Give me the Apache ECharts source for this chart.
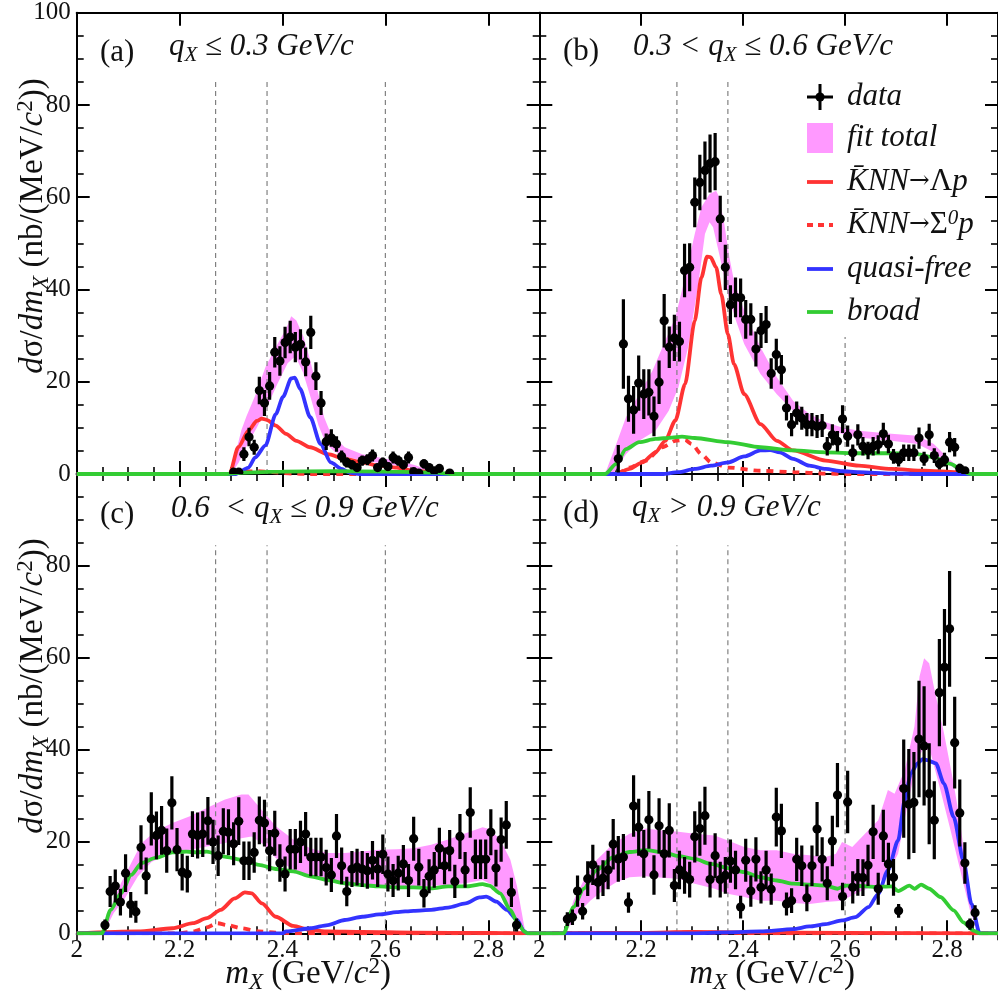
<!DOCTYPE html>
<html><head><meta charset="utf-8">
<script src="https://cdn.jsdelivr.net/npm/echarts@6/dist/echarts.min.js"></script>
<style>html,body{margin:0;padding:0;background:#fff}#c{width:998px;height:995px}</style>
</head><body><div id="c"></div>
<script>
// ---------------- data ----------------
const xTickLabels = ['2', '2.2', '2.4', '2.6', '2.8'];
const yTickLabels = ['0', '20', '40', '60', '80', '100'];
const dashX = [2.27, 2.37, 2.6];
const dashTopA = [85, 85, 85];
const dashTopB = [85, 85, 29.7];
const dashTopC = [84.5, 84.5, 84.5];
const dashTopD = [84.5, 84.5, 100];

const panelLabels = ['(a)', '(b)', '(c)', '(d)'];
const panelTitles = ['{i|q}{s|X}{i| \u2264 0.3 GeV/c}', '{i|0.3 < q}{s|X}{i| \u2264 0.6 GeV/c}',
                     '{i|0.6  < q}{s|X}{i| \u2264 0.9 GeV/c}', '{i|q}{s|X}{i| > 0.9 GeV/c}'];
const legendNames = ['data', 'fit total', 'K\u0304NN\u2192\u039Bp', 'K\u0304NN\u2192\u03A3\u2070p', 'quasi-free', 'broad'];

// [x, y, error]
const aData = [[2.305,0.4,0.4],[2.315,0.4,0.4],[2.325,4.3,1.5],[2.335,8.0,2.0],[2.345,5.8,1.6],[2.355,18.1,3.0],
[2.365,15.4,2.8],[2.375,19.1,3.0],[2.385,26.4,3.3],[2.395,24.5,3.2],[2.405,28.5,3.4],[2.415,29.7,3.5],[2.425,27.5,3.3],
[2.435,28.1,3.3],[2.445,24.3,3.1],[2.455,30.7,3.6],[2.465,21.2,3.0],[2.475,15.4,2.6],[2.485,7.0,1.8],[2.495,7.8,1.9],
[2.505,6.5,1.7],[2.515,3.8,1.3],[2.525,2.5,1.1],[2.535,2.0,1.0],[2.545,1.4,0.8],[2.555,2.9,1.1],[2.565,3.1,1.2],
[2.575,4.0,1.3],[2.585,1.4,0.8],[2.595,2.5,1.1],[2.605,1.6,0.9],[2.615,3.6,1.3],[2.625,2.9,1.1],[2.635,2.0,1.0],
[2.645,3.6,1.3],[2.655,0.5,0.5],[2.665,0.2,0.3],[2.675,2.2,1.0],[2.685,1.4,0.8],[2.695,0.7,0.6],[2.705,1.2,0.7],[2.725,0.2,0.3]];

const bData = [[2.155,3.3,3.0],[2.165,28.2,9.7],[2.175,16.3,5.0],[2.185,13.9,5.2],[2.195,19.7,6.0],[2.205,17.3,5.4],
[2.215,17.7,5.0],[2.225,12.5,4.3],[2.235,19.9,4.7],[2.245,33.2,5.8],[2.255,27.5,4.5],[2.265,29.5,5.0],[2.275,28.7,4.3],
[2.285,44.1,5.8],[2.295,44.8,5.2],[2.305,58.9,5.4],[2.315,63.2,6.0],[2.325,65.8,6.3],[2.335,67.3,6.3],[2.345,67.7,6.2],
[2.355,55.3,5.0],[2.365,44.8,4.9],[2.375,36.7,4.2],[2.385,38.3,4.3],[2.395,38.2,4.2],[2.405,33.5,4.2],[2.415,33.5,3.5],
[2.425,27.1,3.8],[2.435,31.1,3.8],[2.445,32.4,4.0],[2.455,21.8,3.3],[2.465,25.9,3.4],[2.475,22.6,3.2],[2.485,14.3,2.7],
[2.495,10.7,2.5],[2.505,13.2,2.5],[2.515,12.1,2.5],[2.525,10.7,2.5],[2.535,10.7,2.5],[2.545,10.3,2.5],[2.555,10.5,2.5],
[2.565,6.0,2.0],[2.575,8.5,2.3],[2.585,7.1,2.2],[2.595,11.9,3.0],[2.605,8.2,2.3],[2.615,4.6,1.8],[2.625,8.5,2.3],
[2.635,6.0,2.0],[2.645,5.1,1.9],[2.655,6.0,2.0],[2.665,6.4,2.0],[2.675,8.7,2.4],[2.685,6.5,2.0],[2.695,3.8,1.6],
[2.705,3.1,1.5],[2.715,4.6,1.8],[2.725,4.6,1.8],[2.735,4.6,1.8],[2.745,7.8,2.3],[2.755,3.3,1.5],[2.765,8.5,2.4],
[2.775,4.0,1.6],[2.785,2.2,1.2],[2.795,3.1,1.5],[2.805,6.9,2.2],[2.815,5.8,2.0],[2.825,1.2,1.0],[2.835,0.7,0.8]];

const cData = [[2.055,1.8,1.2],[2.065,9.1,3.4],[2.075,10.3,3.6],[2.085,6.8,2.9],[2.095,13.1,4.1],[2.105,6.2,2.8],
[2.115,4.7,2.4],[2.125,18.7,4.8],[2.135,12.5,4.0],[2.145,24.9,5.8],[2.155,21.3,5.2],[2.165,22.4,5.3],[2.175,18.0,4.8],
[2.185,28.4,5.8],[2.195,18.2,4.7],[2.205,13.3,4.0],[2.215,12.9,4.0],[2.225,21.6,5.0],[2.235,21.3,5.0],[2.245,21.6,5.0],
[2.255,24.5,5.2],[2.265,19.9,4.8],[2.275,16.9,4.4],[2.285,22.2,5.0],[2.295,22.0,5.0],[2.305,19.5,4.7],[2.315,24.4,5.2],
[2.325,15.8,4.2],[2.335,15.8,4.2],[2.345,17.6,4.4],[2.355,24.6,5.2],[2.365,24.0,5.1],[2.375,18.0,4.5],[2.385,21.8,4.9],
[2.395,15.3,4.1],[2.405,12.9,3.8],[2.415,18.3,4.4],[2.425,18.3,4.4],[2.435,19.9,4.6],[2.445,21.6,4.8],[2.455,16.6,4.2],
[2.465,16.6,4.2],[2.475,16.6,4.2],[2.485,14.3,3.9],[2.495,12.7,3.7],[2.505,21.2,4.8],[2.515,14.7,4.0],[2.525,9.1,3.2],
[2.535,14.0,3.9],[2.545,14.4,4.0],[2.555,14.0,3.9],[2.565,13.6,3.9],[2.575,15.9,4.2],[2.585,14.0,3.9],[2.595,17.2,4.3],
[2.605,12.9,3.8],[2.615,11.5,3.6],[2.625,13.1,3.8],[2.635,15.1,4.1],[2.645,11.5,3.6],[2.655,20.6,4.8],[2.665,14.4,4.0],
[2.675,8.7,3.1],[2.685,12.4,3.7],[2.695,13.8,3.9],[2.705,18.5,4.5],[2.715,14.7,4.0],[2.725,18.0,4.5],[2.735,11.3,3.6],
[2.745,21.1,4.9],[2.755,13.8,3.9],[2.765,26.3,5.5],[2.775,16.1,4.3],[2.785,16.1,4.3],[2.795,16.1,4.3],[2.805,22.0,5.0],
[2.815,14.2,4.0],[2.825,20.4,4.8],[2.835,23.6,5.2],[2.845,8.9,3.2],[2.855,1.8,1.4]];

const dData = [[2.055,3.1,1.5],[2.065,3.5,1.7],[2.075,9.2,3.4],[2.085,4.8,1.8],[2.095,11.9,3.8],[2.105,14.9,4.4],
[2.115,11.1,3.7],[2.125,12.0,3.9],[2.135,13.8,4.2],[2.145,19.4,5.5],[2.155,16.2,5.0],[2.165,16.6,5.0],[2.175,6.7,2.2],
[2.185,27.7,6.7],[2.195,23.1,6.2],[2.205,17.3,5.2],[2.215,24.7,6.3],[2.225,12.7,4.3],[2.235,23.4,6.0],[2.245,17.3,5.2],
[2.255,22.4,5.9],[2.265,10.4,3.6],[2.275,13.8,4.2],[2.285,12.6,4.0],[2.295,11.7,3.9],[2.305,21.0,5.6],[2.315,22.8,5.9],
[2.325,25.6,6.3],[2.335,11.7,3.9],[2.345,16.9,4.9],[2.355,11.7,3.9],[2.365,12.6,4.0],[2.375,15.7,4.7],[2.385,13.8,4.2],
[2.395,5.7,2.5],[2.405,15.9,4.7],[2.415,9.2,3.4],[2.425,16.1,4.8],[2.435,10.0,3.5],[2.445,13.8,4.2],[2.455,9.6,3.4],
[2.465,25.3,6.4],[2.475,22.3,5.9],[2.485,6.4,2.5],[2.495,7.1,2.7],[2.505,16.1,4.7],[2.515,14.7,4.4],[2.525,7.7,2.9],
[2.535,14.7,4.4],[2.545,22.7,5.9],[2.555,16.1,4.8],[2.565,10.9,3.7],[2.575,20.1,5.5],[2.585,30.1,7.0],[2.595,8.0,3.0],
[2.605,28.6,6.8],[2.615,10.0,3.5],[2.625,12.2,4.0],[2.635,12.1,4.0],[2.645,14.8,4.5],[2.655,22.1,5.9],[2.665,9.7,3.5],
[2.675,21.2,5.7],[2.685,15.1,4.6],[2.695,12.2,4.0],[2.705,4.9,1.5],[2.715,31.5,10.7],[2.725,28.1,12.0],[2.735,28.5,11.0],
[2.745,42.3,12.7],[2.755,40.8,13.0],[2.765,30.4,11.0],[2.775,24.6,8.5],[2.785,52.4,11.7],[2.795,57.9,12.7],[2.805,66.3,12.6],
[2.815,41.5,10.0],[2.825,26.2,7.3],[2.835,15.3,4.5],[2.845,2.0,1.2],[2.855,4.5,1.6]];

// fit total band: upper and lower edges
const aUpper = [[2.297,0],[2.31,5],[2.32,9.5],[2.33,12.5],[2.347,17],[2.367,23.2],[2.387,27.5],[2.407,31.5],[2.417,34.2],
[2.427,33.3],[2.441,29.7],[2.454,24.6],[2.468,18.1],[2.481,12.3],[2.494,8.7],[2.521,5.8],[2.555,4.3],[2.588,3.6],[2.622,2.8],
[2.655,2.0],[2.689,0.7],[2.722,0]];
const aLower = [[2.300,0],[2.315,2.5],[2.33,6],[2.35,10],[2.37,14.5],[2.39,19.5],[2.41,24],[2.425,25.5],[2.44,22],
[2.455,16.5],[2.47,10.5],[2.485,6.5],[2.5,5],[2.52,3.8],[2.56,2.8],[2.6,2.2],[2.65,1.4],[2.69,0.5],[2.715,0]];
const bUpper = [[2.129,0],[2.151,6.5],[2.170,12.3],[2.196,17.3],[2.222,22.4],[2.247,28.9],[2.267,34],[2.286,42.6],[2.305,52],
[2.318,57.8],[2.334,60.7],[2.347,61.4],[2.353,60],[2.363,54.2],[2.373,47],[2.382,41.9],[2.402,35.4],[2.434,27.5],[2.466,21],
[2.498,15.9],[2.530,13],[2.562,11.2],[2.594,10.1],[2.627,9.4],[2.691,8.7],[2.742,8.3],[2.774,6.5],[2.807,2.9],[2.832,0.7],[2.845,0]];
const bLower = [[2.145,0],[2.170,4.3],[2.196,7.2],[2.228,9.4],[2.254,13.7],[2.273,18.8],[2.292,27.5],[2.312,41.2],[2.325,52],
[2.334,54.6],[2.341,53.5],[2.353,47.7],[2.370,39],[2.386,33.2],[2.402,28.2],[2.434,21.7],[2.466,17.3],[2.498,13.7],[2.530,11.2],
[2.562,9.8],[2.594,8.7],[2.627,7.9],[2.691,7.2],[2.742,6.5],[2.774,4.7],[2.807,1.8],[2.832,0]];
const cUpper = [[2.049,0],[2.066,5.8],[2.086,10.9],[2.106,15.3],[2.126,19.6],[2.153,22.2],[2.186,24],[2.220,25.5],[2.253,27.3],
[2.287,29.1],[2.320,30.2],[2.334,30.2],[2.354,27.6],[2.387,23.3],[2.421,20.4],[2.454,18.5],[2.488,17.5],[2.521,17.5],[2.555,17.8],
[2.588,18.2],[2.622,18.3],[2.655,18.5],[2.689,19.3],[2.722,20.4],[2.756,21.8],[2.789,23.1],[2.802,22.7],[2.823,20.4],[2.843,16],
[2.856,10.2],[2.870,1.5],[2.873,0]];
const cLower = [[2.052,0],[2.072,4.4],[2.092,7.3],[2.119,12.4],[2.146,15.6],[2.186,17.5],[2.220,18.2],[2.253,18.9],[2.287,19.6],
[2.320,20.7],[2.340,21.1],[2.360,19.6],[2.387,16.4],[2.421,13.8],[2.454,12.4],[2.488,11.5],[2.521,10.9],[2.588,10.3],[2.655,10.2],
[2.722,10.5],[2.756,10.9],[2.789,11.6],[2.809,10.5],[2.829,8],[2.850,4.4],[2.863,0.7],[2.866,0]];
const dUpper = [[2.048,0],[2.067,7.1],[2.087,11.5],[2.112,15.9],[2.145,19.5],[2.177,21.7],[2.209,22.8],[2.241,22.4],[2.273,22.1],
[2.305,21.7],[2.344,21.3],[2.37,20.2],[2.402,18.8],[2.434,18.1],[2.466,18.1],[2.498,17.3],[2.530,17],[2.562,16.6],[2.582,17.3],
[2.594,19.9],[2.614,18.8],[2.639,21.7],[2.665,24.6],[2.684,31.2],[2.697,30.4],[2.717,35.5],[2.736,45],[2.746,55.9],[2.755,59.9],
[2.765,58.8],[2.774,53.8],[2.794,43.6],[2.813,32.6],[2.826,23.9],[2.845,7.9],[2.858,1.3],[2.866,0]];
const dLower = [[2.051,0],[2.074,4.2],[2.10,7.1],[2.125,9.3],[2.151,11.1],[2.177,12.2],[2.209,12.4],[2.241,12.1],[2.273,11.9],
[2.305,10.8],[2.344,9.7],[2.37,8.6],[2.402,7.9],[2.434,7.1],[2.466,7.1],[2.498,6.6],[2.530,6.4],[2.562,6.8],[2.594,7.1],[2.627,9.0],
[2.659,10.4],[2.684,13],[2.704,17.3],[2.723,28.3],[2.742,37.7],[2.755,40.6],[2.768,39.2],[2.787,31.2],[2.807,22.4],[2.826,13.7],
[2.845,5],[2.861,0]];

// components
const aRed = [[2.0,0],[2.297,0],[2.314,5.8],[2.334,9.4],[2.35,11.5],[2.36,12],[2.37,11.7],[2.387,10.5],[2.407,8.7],[2.427,7.2],
[2.454,5.8],[2.488,4.3],[2.521,3.3],[2.555,2.5],[2.588,1.8],[2.622,1.4],[2.655,0.7],[2.69,0.4],[2.72,0],[2.9,0]];
const aRedDot = [[2.0,0],[2.3,0],[2.32,0.5],[2.35,0.6],[2.38,0.4],[2.42,0.1],[2.45,0],[2.9,0]];
const aBlue = [[2.0,0],[2.31,0],[2.320,0.7],[2.334,1.4],[2.347,3.6],[2.367,6.2],[2.387,13],[2.401,16.7],[2.417,20.7],[2.424,20.9],
[2.434,18.5],[2.454,12.3],[2.474,6.5],[2.494,2.5],[2.515,1.1],[2.53,0.3],[2.55,0],[2.9,0]];
const aGreen = [[2.0,0],[2.29,0],[2.32,0.3],[2.4,0.5],[2.5,0.6],[2.6,0.5],[2.7,0.3],[2.73,0],[2.9,0]];

const bRed = [[2.0,0],[2.151,0],[2.177,1.1],[2.202,2.5],[2.228,4.7],[2.247,7.2],[2.267,11.6],[2.286,19.5],[2.305,33.2],[2.318,42.6],
[2.329,47.1],[2.336,47],[2.347,44.8],[2.357,39],[2.370,30.3],[2.382,23.8],[2.402,17.3],[2.434,10.8],[2.466,7.2],[2.498,5.1],
[2.562,2.9],[2.627,1.8],[2.691,1.1],[2.755,0.7],[2.819,0.4],[2.845,0],[2.9,0]];
const bRedDot = [[2.0,0],[2.151,0],[2.177,1.4],[2.209,2.9],[2.241,5.8],[2.267,7.2],[2.286,7.4],[2.299,6.5],[2.318,4.3],[2.337,2.5],
[2.370,1.4],[2.434,0.7],[2.498,0.4],[2.562,0.1],[2.6,0],[2.9,0]];
const bBlue = [[2.0,0],[2.241,0],[2.273,0.4],[2.305,1.1],[2.337,1.8],[2.370,2.5],[2.402,3.8],[2.434,5.1],[2.453,5.2],[2.472,4.7],
[2.498,3.3],[2.530,1.8],[2.562,1.1],[2.594,0.6],[2.627,0.4],[2.69,0.1],[2.75,0],[2.9,0]];
const bGreen = [[2.0,0],[2.129,0],[2.151,2.2],[2.170,5.4],[2.196,6.9],[2.228,7.6],[2.260,7.9],[2.280,8.1],[2.305,7.8],[2.370,6.9],
[2.434,5.8],[2.498,5.1],[2.562,4.7],[2.627,4.5],[2.691,4.5],[2.742,4.3],[2.774,3.6],[2.807,2.2],[2.826,1.1],[2.842,0.1],[2.85,0],[2.9,0]];

const cRed = [[2.0,0],[2.119,0.4],[2.186,1.1],[2.226,2.2],[2.253,3.3],[2.280,5.1],[2.307,7.6],[2.327,8.9],[2.340,8.7],[2.360,6.5],
[2.387,3.6],[2.421,1.6],[2.454,0.7],[2.488,0.4],[2.555,0.3],[2.655,0.15],[2.8,0.07],[2.87,0],[2.9,0]];
const cRedDot = [[2.0,0],[2.2,0],[2.226,0.4],[2.253,1.3],[2.273,2.2],[2.293,1.8],[2.320,1.1],[2.354,0.4],[2.387,0.15],[2.42,0],[2.9,0]];
const cBlue = [[2.0,0],[2.40,0],[2.407,0.4],[2.454,1.1],[2.488,1.8],[2.521,2.9],[2.555,3.6],[2.588,4.1],[2.622,4.6],[2.655,4.9],
[2.689,5.1],[2.722,5.6],[2.756,6.5],[2.783,7.8],[2.796,8.0],[2.816,6.9],[2.836,5.1],[2.856,2.9],[2.870,0.4],[2.876,0],[2.9,0]];
const cGreen = [[2.0,0],[2.049,0],[2.066,5.1],[2.086,8.7],[2.106,12.7],[2.126,15.3],[2.153,16.4],[2.186,17.6],[2.213,17.8],[2.233,17.6],
[2.253,17.8],[2.287,16.7],[2.320,16],[2.354,14.9],[2.387,14],[2.421,13.5],[2.454,12.4],[2.488,11.6],[2.521,10.9],[2.555,10.5],
[2.588,10.2],[2.622,10],[2.655,10],[2.689,9.8],[2.722,10.2],[2.756,10.2],[2.789,10.7],[2.802,10.4],[2.823,8.7],[2.843,5.1],
[2.856,2.5],[2.870,0.4],[2.876,0],[2.9,0]];

const dRed = [[2.0,0],[2.2,0.1],[2.3,0.3],[2.4,0.2],[2.6,0.1],[2.86,0],[2.9,0]];
const dRedDot = [[2.0,0],[2.25,0.1],[2.3,0.2],[2.35,0.1],[2.45,0],[2.9,0]];
const dBlue = [[2.0,0],[2.3,0],[2.37,0.2],[2.434,0.4],[2.498,0.9],[2.530,1.5],[2.562,2.0],[2.594,2.8],[2.620,3.5],[2.646,5.7],
[2.665,8.6],[2.684,13.7],[2.704,20.2],[2.717,29],[2.729,34.8],[2.742,37],[2.752,37.9],[2.761,37.7],[2.778,37],[2.794,32.6],
[2.813,25.3],[2.832,15.9],[2.848,6.4],[2.864,0],[2.9,0]];
const dGreen = [[2.0,0],[2.048,0],[2.067,5.7],[2.087,9.7],[2.112,13.7],[2.145,16.6],[2.177,17.7],[2.209,18.1],[2.241,17.7],[2.273,16.8],
[2.305,16.2],[2.337,15.1],[2.37,14.2],[2.402,13.3],[2.434,12.2],[2.466,11.5],[2.498,10.8],[2.530,10.6],[2.562,10.4],[2.585,9.7],
[2.601,10.4],[2.627,10.3],[2.659,10.1],[2.691,10.2],[2.704,9.2],[2.726,10.4],[2.736,9.7],[2.749,10.6],[2.765,9.7],[2.787,7.9],
[2.813,5.0],[2.832,2.4],[2.852,0.6],[2.864,0],[2.9,0]];

// ---------------- styling / layout ----------------
const FONT = "Liberation Serif";
const TXT = '#111';
const RED = '#ff3333', BLUE = '#3333ff', GREEN = '#33cc33', PINK = '#ff99ff', DASH = '#808080';
const LW = 3.8;
const grids = [
  {left: 76.7, top: 12.7, width: 463, height: 461.3},
  {left: 539.3, top: 12.7, width: 466, height: 461.3},
  {left: 76.7, top: 474, width: 463, height: 459.3},
  {left: 539.3, top: 474, width: 466, height: 459.3}
];
const panels = [
  {data: aData, upper: aUpper, lower: aLower, red: aRed, redDot: aRedDot, blue: aBlue, green: aGreen, dashTop: dashTopA},
  {data: bData, upper: bUpper, lower: bLower, red: bRed, redDot: bRedDot, blue: bBlue, green: bGreen, dashTop: dashTopB},
  {data: cData, upper: cUpper, lower: cLower, red: cRed, redDot: cRedDot, blue: cBlue, green: cGreen, dashTop: dashTopC},
  {data: dData, upper: dUpper, lower: dLower, red: dRed, redDot: dRedDot, blue: dBlue, green: dGreen, dashTop: dashTopD}
];

const tickRich = {t: {fontFamily: FONT, fontSize: 25, fontStyle: 'normal', fontWeight: 'normal', color: TXT}};
const axLine = {show: true, onZero: false, lineStyle: {color: '#000', width: 2}};
const xAxes = [], yAxes = [];
grids.forEach((g, i) => {
  const showX = i >= 2;
  ['bottom', 'top'].forEach(pos => {
    xAxes.push({gridIndex: i, type: 'value', min: 2, max: 2.9, interval: 0.2, position: pos,
      axisLine: axLine, splitLine: {show: false},
      axisTick: {show: true, inside: true, length: 13, lineStyle: {color: '#000', width: 2}},
      axisLabel: {show: showX && pos === 'bottom', showMaxLabel: false, margin: 5,
        fontFamily: FONT, fontSize: 25, color: TXT, rich: tickRich,
        formatter: v => '{t|' + (xTickLabels[Math.round((v - 2) / 0.2)] || '') + '}'}});
    xAxes.push({gridIndex: i, type: 'value', min: 2, max: 2.9, interval: 0.05, position: pos,
      axisLine: {show: false}, splitLine: {show: false}, axisLabel: {show: false},
      axisTick: {show: true, inside: true, length: 7, lineStyle: {color: '#000', width: 1.6}}});
  });
  ['left', 'right'].forEach(pos => {
    yAxes.push({gridIndex: i, type: 'value', min: 0, max: 100, interval: 20, position: pos,
      axisLine: axLine, splitLine: {show: false},
      axisTick: {show: true, inside: true, length: 13, lineStyle: {color: '#000', width: 2}},
      minorTick: {show: true, splitNumber: 4, length: 7, lineStyle: {color: '#000', width: 1.6}},
      axisLabel: {show: pos === 'left' && (i === 0 || i === 2), showMaxLabel: i === 0, margin: 6,
        fontFamily: FONT, fontSize: 25, color: TXT, rich: tickRich,
        formatter: v => '{t|' + yTickLabels[Math.round(v / 20)] + '}'}});
  });
});

function bandRender(upper, lower) {
  return function (params, api) {
    const pts = upper.map(p => api.coord(p)).concat(lower.slice().reverse().map(p => api.coord(p)));
    return {type: 'polygon', shape: {points: pts}, style: {fill: PINK}};
  };
}
function dashRender(params, api) {
  const a = api.coord([api.value(0), 0]), b = api.coord([api.value(0), api.value(1)]);
  return {type: 'line', shape: {x1: a[0], y1: a[1], x2: b[0], y2: b[1]},
    style: {stroke: DASH, lineWidth: 1.2, lineDash: [5, 4]}};
}
function dataRender(params, api) {
  const x = api.value(0), y = api.value(1), e = api.value(2);
  const p = api.coord([x, y]), lo = api.coord([x, Math.max(0, y - e)]), hi = api.coord([x, y + e]);
  return {type: 'group', children: [
    {type: 'line', shape: {x1: p[0], y1: lo[1], x2: p[0], y2: hi[1]}, style: {stroke: '#000', lineWidth: 3.2}},
    {type: 'circle', shape: {cx: p[0], cy: p[1], r: 4.6}, style: {fill: '#000'}}
  ]};
}
function lineSeries(i, arr, color, dotted) {
  return {type: 'line', xAxisIndex: 4 * i, yAxisIndex: 2 * i, data: arr, symbol: 'none', showSymbol: false,
    smooth: 0.25, smoothMonotone: 'x', silent: true, z: 3,
    lineStyle: {color: color, width: LW, type: dotted ? [7, 6] : 'solid'}};
}

const series = [];
panels.forEach((p, i) => {
  series.push({type: 'custom', xAxisIndex: 4 * i, yAxisIndex: 2 * i, data: [[2.5, 0]], clip: true, silent: true, z: 1,
    renderItem: bandRender(p.upper, p.lower)});
  series.push({type: 'custom', xAxisIndex: 4 * i, yAxisIndex: 2 * i, clip: true, silent: true, z: 2,
    data: dashX.map((x, k) => [x, p.dashTop[k]]), renderItem: dashRender});
  series.push(lineSeries(i, p.red, RED, false));
  series.push(lineSeries(i, p.redDot, RED, true));
  series.push(lineSeries(i, p.blue, BLUE, false));
  series.push(lineSeries(i, p.green, GREEN, false));
  series.push({type: 'custom', xAxisIndex: 4 * i, yAxisIndex: 2 * i, clip: true, silent: true, z: 5,
    data: p.data, renderItem: dataRender});
});

// ---------------- texts ----------------
function makeRich(fs, sub) {
  return {
    i: {fontFamily: FONT, fontStyle: 'italic', fontSize: fs, fill: TXT},
    n: {fontFamily: FONT, fontSize: fs, fill: TXT},
    a: {fontFamily: 'DejaVu Serif', fontSize: fs * 0.8, fill: TXT},
    s: {fontFamily: FONT, fontStyle: 'italic', fontSize: sub, fill: TXT, padding: [Math.round(fs * 0.55), 0, 0, 0]},
    p: {fontFamily: FONT, fontSize: sub, fill: TXT, padding: [0, 0, Math.round(fs * 0.45), 0]},
    pi: {fontFamily: FONT, fontStyle: 'italic', fontSize: sub, fill: TXT, padding: [0, 0, Math.round(fs * 0.45), 0]}
  };
}
const richLab = makeRich(31, 21);
const richTitle = makeRich(33, 23);
const graphics = [];
const labelPos = [[100, 53, 169, 47], [563, 52, 633, 47], [100, 515, 171, 509], [563, 514, 632, 508]];
panelLabels.forEach((t, i) => {
  const q = labelPos[i];
  graphics.push({type: 'text', x: q[0], y: q[1], z: 50,
    style: {text: t, fontFamily: FONT, fontSize: 31, fill: TXT, align: 'left', verticalAlign: 'middle'}});
  graphics.push({type: 'text', x: q[2], y: q[3], z: 50,
    style: {text: panelTitles[i], rich: richLab, align: 'left', verticalAlign: 'middle'}});
});
const yTitle = '{i|d}{n|\u03C3/}{i|dm}{s|X}{n| (nb/(MeV/}{i|c}{p|2}{n|))}';
[[33, 226], [33, 686]].forEach(q => {
  graphics.push({type: 'text', x: q[0], y: q[1], rotation: Math.PI / 2, z: 50,
    style: {text: yTitle, rich: richTitle, align: 'center', verticalAlign: 'middle'}});
});
const xTitle = '{i|m}{s|X}{n| (GeV/}{i|c}{p|2}{n|)}';
[[308, 974], [772, 974]].forEach(q => {
  graphics.push({type: 'text', x: q[0], y: q[1], z: 50,
    style: {text: xTitle, rich: richTitle, align: 'center', verticalAlign: 'middle'}});
});

// legend (panel b)
const legRows = [97, 138, 182, 225, 269, 312];
const legRich = ['{i|data}', '{i|fit total}', '{i|K\u0304NN}{a|\u2192}{n|\u039B}{i|p}', '{i|K\u0304NN}{a|\u2192}{n|\u03A3}{pi|0}{i|p}',
  '{i|quasi-free}', '{i|broad}'];
const mx0 = 807, mx1 = 833;
graphics.push({type: 'line', z: 60, shape: {x1: mx0, y1: legRows[0], x2: mx1, y2: legRows[0]}, style: {stroke: '#000', lineWidth: 3}});
graphics.push({type: 'line', z: 60, shape: {x1: 820, y1: legRows[0] - 13, x2: 820, y2: legRows[0] + 13}, style: {stroke: '#000', lineWidth: 3}});
graphics.push({type: 'circle', z: 60, shape: {cx: 820, cy: legRows[0], r: 4.6}, style: {fill: '#000'}});
graphics.push({type: 'rect', z: 60, shape: {x: mx0, y: legRows[1] - 15, width: 26, height: 30}, style: {fill: PINK}});
[[RED, null], [RED, [6, 5]], [BLUE, null], [GREEN, null]].forEach((c, k) => {
  const y = legRows[k + 2];
  graphics.push({type: 'line', z: 60, shape: {x1: mx0, y1: y, x2: mx1, y2: y},
    style: {stroke: c[0], lineWidth: LW, lineDash: c[1]}});
});
legRich.forEach((t, k) => {
  graphics.push({type: 'text', x: 847, y: legRows[k], z: 60,
    style: {text: t, rich: richLab, align: 'left', verticalAlign: 'middle'}});
});

const chart = echarts.init(document.getElementById('c'), null, {renderer: 'canvas'});
chart.setOption({
  animation: false,
  backgroundColor: '#fff',
  grid: grids,
  xAxis: xAxes,
  yAxis: yAxes,
  series: series,
  graphic: {elements: graphics}
});
</script></body></html>
